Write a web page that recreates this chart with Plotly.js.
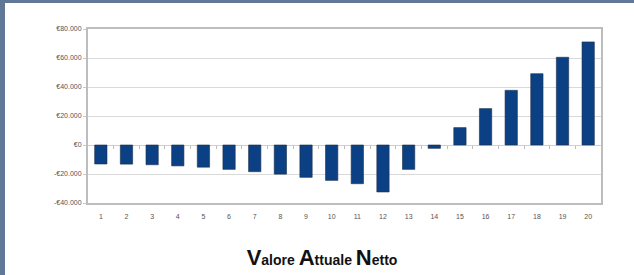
<!DOCTYPE html>
<html>
<head>
<meta charset="utf-8">
<script src="https://cdn.plot.ly/plotly-3.0.1.min.js"></script>
<style>
  html, body { margin: 0; padding: 0; width: 634px; height: 275px; overflow: hidden; background: #5f7897; }
  #chart { position: absolute; left: 5px; top: 3px; width: 629px; height: 272px; background: #ffffff; }
</style>
</head>
<body>
<div id="chart"></div>
<script>
const years = [1,2,3,4,5,6,7,8,9,10,11,12,13,14,15,16,17,18,19,20];
const van = [-13100,-13200,-13600,-14400,-15300,-16800,-18400,-20100,-22300,-24400,-26700,-32400,-16800,-2300,12000,25100,37700,49200,60500,71100];
const yTickVals = [-40000,-20000,0,20000,40000,60000,80000];
const yTickText = ['-€40.000','-€20.000','€0','€20.000','€40.000','€60.000','€80.000'];
const boundaries = years.slice(0, -1).map(v => v + 0.5);

const trace = {
  type: 'bar',
  x: years,
  y: van,
  width: 0.48,
  marker: { color: '#0b4184', line: { color: '#1d2f4a', width: 0.6 } },
  hoverinfo: 'x+y'
};

const layout = {
  width: 629, height: 272,
  margin: { l: 83, r: 33, t: 26, b: 72 },
  paper_bgcolor: '#ffffff',
  plot_bgcolor: '#ffffff',
  showlegend: false,
  font: { family: 'Liberation Sans, Arial, sans-serif', size: 7, color: '#555555' },
  title: {
    text: '<b><span style="font-size:22px">V</span>alore <span style="font-size:22px">A</span>ttuale <span style="font-size:22px">N</span>etto</b>',
    font: { family: 'Liberation Sans, Arial, sans-serif', size: 14, color: '#111111' },
    x: 0.504, xref: 'container', xanchor: 'center',
    y: 0.055, yref: 'container', yanchor: 'middle'
  },
  xaxis: {
    type: 'linear',
    range: [0.5, 20.5],
    tickvals: years,
    ticktext: years.map(String),
    ticks: '',
    showgrid: false,
    zeroline: false,
    showline: true, mirror: true, linecolor: '#bdbdbd', linewidth: 2,
    tickfont: { size: 7, color: '#555555' },
    ticklabelstandoff: 6
  },
  xaxis2: {
    type: 'linear',
    overlaying: 'x',
    anchor: 'free',
    position: 40000 / 120000,
    range: [0.5, 20.5],
    tickvals: boundaries,
    ticks: 'outside', ticklen: 3, tickwidth: 1, tickcolor: '#bdbdbd',
    showticklabels: false,
    showgrid: false, zeroline: false, showline: false
  },
  yaxis: {
    range: [-40000, 80000],
    tickvals: yTickVals,
    ticktext: yTickText,
    ticks: 'outside', ticklen: 3, tickcolor: '#c8c8c8',
    showgrid: true, gridcolor: '#d9d9d9', gridwidth: 1,
    zeroline: true, zerolinecolor: '#cfcfcf', zerolinewidth: 1,
    showline: true, mirror: true, linecolor: '#bdbdbd', linewidth: 2,
    tickfont: { size: 7, color: '#555555' }
  }
};

const dummy = { type: 'scatter', x: [1], y: [0], xaxis: 'x2', mode: 'markers', marker: { opacity: 0 }, hoverinfo: 'skip' };

Plotly.newPlot('chart', [trace, dummy], layout, { displayModeBar: false, staticPlot: true });
</script>
</body>
</html>
